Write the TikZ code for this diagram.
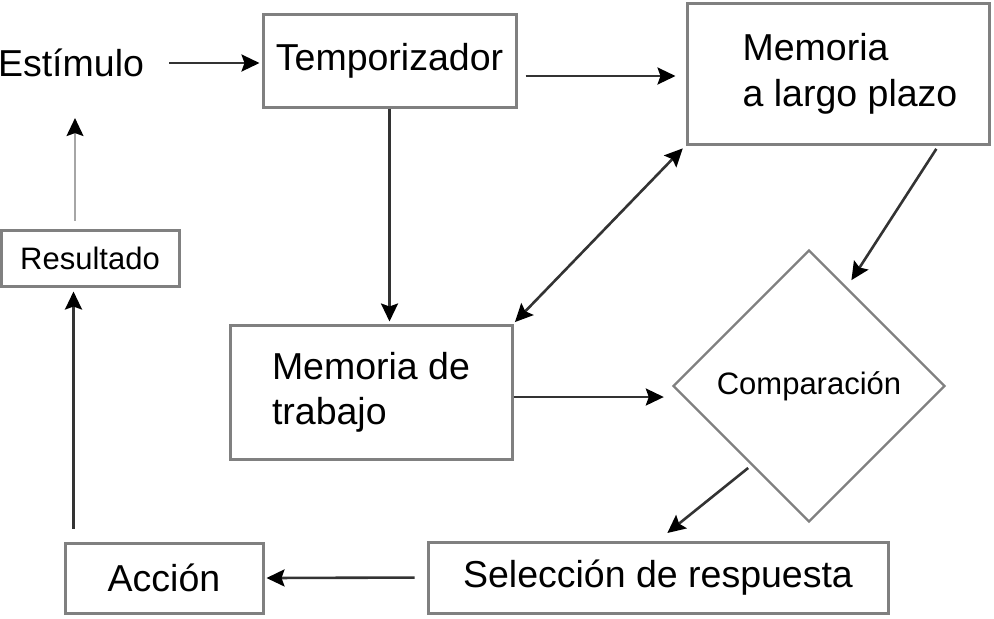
\documentclass[tikz,border=0pt]{standalone}
\usepackage{fontspec}
\setmainfont{Liberation Sans}
\usepackage{tikz}
\usetikzlibrary{positioning,calc,arrows.meta,shapes.geometric}
\tikzstyle{block} = [draw=black!50, line width=1.5pt, rectangle, align=left, font=\fontsize{18.75}{22.5}\selectfont]
\tikzstyle{data} = [font=\fontsize{18.75}{22.5}\selectfont]
\tikzstyle{small} = [font=\fontsize{15.5}{18}\selectfont]
\tikzstyle{cmp} = [draw=black!50, line width=1.2pt, diamond, minimum width=136pt, minimum height=136pt, inner sep=0pt]
\tikzstyle{to} = [->,>={Stealth[length=9pt,width=8.5pt,inset=1.5pt,color=black]},shorten >=1pt,line width=1.3pt,draw=black!80]
\tikzstyle{faint} = [draw=black!35, line width=0.9pt]

\begin{document}
\begin{tikzpicture}[x=0.5pt, y=-0.5pt]
	\useasboundingbox (0,0) rectangle (994,618);
	%
	\node (est) [data] at (71,63) {Estímulo};
	\node (temp) [block, minimum width=126.5pt, minimum height=46.5pt] at (389.5,60.5) {Temporizador};
	\node (mlp) [block, minimum width=151pt, minimum height=70.5pt] at (838,73.5) {\hspace*{12pt}Memoria\\[0.5pt]\hspace*{12pt}a largo plazo};
	%
	\node (res) [block, small, minimum width=89pt, minimum height=28pt] at (90,258) {Resultado};
	\node (mt) [block, minimum width=141pt, minimum height=67pt] at (371,392) {Memoria de\\trabajo};
	\node (comp) [cmp, small] at (809,386) {Comparación};
	%
	\node (acc) [block, minimum width=99pt, minimum height=35pt] at (164,578) {Acción};
	\node (sel) [block, minimum width=230pt, minimum height=35.5pt] at (658,577.5) {Selección de respuesta};
	%
	\draw [to, shorten <=9pt] (est.east) -- (est.east -| temp.west);
	\draw [to, shorten <=4pt, shorten >=5pt] ([yshift=-7.75pt]temp.east) -- ([yshift=-7.75pt]temp.east -| mlp.west);
	\draw [to] (temp.south) -- (temp.south |- mt.north);
	%
	\draw [to, <->, shorten <=2pt, shorten >=1pt] (mlp.south west) -- (mt.north east);
	\draw [to, shorten <=2pt, shorten >=4pt] ([xshift=-26pt]mlp.south east) -- (comp.69);
	\draw [to, shorten >=4pt] ([yshift=-2.5pt]mt.east) -- ([yshift=-2.5pt]mt.east -| comp.west);
	%
	\draw [to, shorten <=2pt, shorten >=6pt] (comp.234) -- (sel.north);
	\draw [to, shorten <=6pt] (sel.west) -- (acc.east);
	\draw [to, shorten <=6.5pt, shorten >=2pt] ([xshift=5pt]acc.north west) -- ([xshift=5pt]acc.north west |- res.south);
	\draw [to, faint, shorten <=4pt, shorten >=17pt] (res.north -| 75,0) -- (est.south -| 75,0);
\end{tikzpicture}
\end{document}
